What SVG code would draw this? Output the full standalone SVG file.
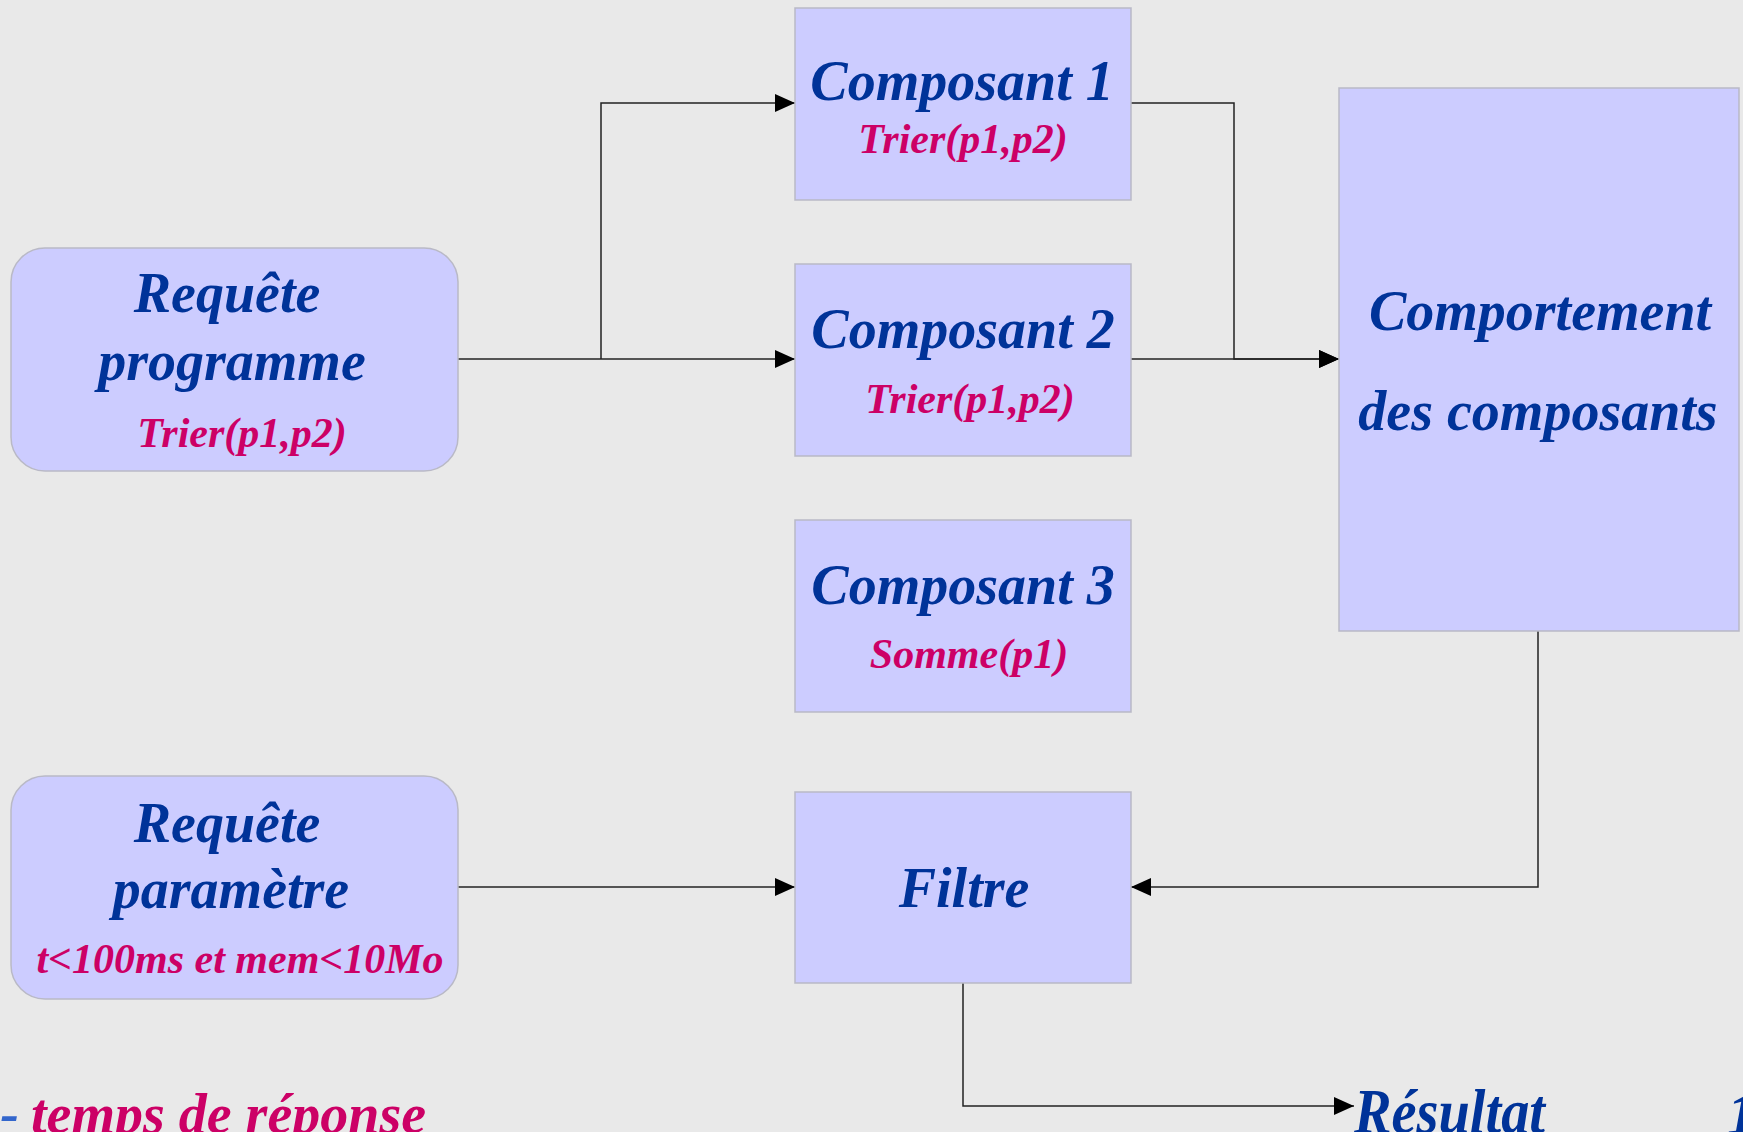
<svg xmlns="http://www.w3.org/2000/svg" width="1743" height="1132" viewBox="0 0 1743 1132">
<style>
.box{fill:#ccccff;stroke:#b9b9c6;stroke-width:1.5}
.t{font-family:"Liberation Serif","Times New Roman",serif;font-weight:bold;font-style:italic;text-anchor:middle}
.b{fill:#003399;font-size:56px}
.m{fill:#cc0066;font-size:42px}
.c{fill:none;stroke:#222;stroke-width:1.5}
</style>
<defs>
<marker id="ar" markerUnits="userSpaceOnUse" markerWidth="20" markerHeight="18" refX="20" refY="9" orient="auto">
<path d="M0,0 L20,9 L0,18 z" fill="#000"/>
</marker>
</defs>
<rect width="1743" height="1132" fill="#e9e9e9"/>
<g id="connectors">
<path class="c" d="M458,359 H795" marker-end="url(#ar)"/>
<path class="c" d="M601,359 V103 H795" marker-end="url(#ar)"/>
<path class="c" d="M1131,103 H1234 V359 H1339" marker-end="url(#ar)"/>
<path class="c" d="M1131,359 H1339" marker-end="url(#ar)"/>
<path class="c" d="M1538,631 V887 H1131" marker-end="url(#ar)"/>
<path class="c" d="M458,887 H795" marker-end="url(#ar)"/>
<path class="c" d="M963,983 V1106 H1354" marker-end="url(#ar)"/>
</g>
<g id="req-programme">
<rect class="box" x="11" y="248" width="447" height="223" rx="34"/>
<text class="t b" x="227" y="312">Requête</text>
<text class="t b" x="232" y="380">programme</text>
<text class="t m" x="242" y="447">Trier(p1,p2)</text>
</g>
<g id="req-parametre">
<rect class="box" x="11" y="776" width="447" height="223" rx="34"/>
<text class="t b" x="227" y="842">Requête</text>
<text class="t b" x="231" y="908">paramètre</text>
<text class="t m" x="240" y="973">t&lt;100ms et mem&lt;10Mo</text>
</g>
<g id="composant1">
<rect class="box" x="795" y="8" width="336" height="192"/>
<text class="t b" x="962" y="100">Composant 1</text>
<text class="t m" x="963" y="153">Trier(p1,p2)</text>
</g>
<g id="composant2">
<rect class="box" x="795" y="264" width="336" height="192"/>
<text class="t b" x="963" y="348">Composant 2</text>
<text class="t m" x="970" y="413">Trier(p1,p2)</text>
</g>
<g id="composant3">
<rect class="box" x="795" y="520" width="336" height="192"/>
<text class="t b" x="963" y="604">Composant 3</text>
<text class="t m" x="969" y="668">Somme(p1)</text>
</g>
<g id="filtre">
<rect class="box" x="795" y="792" width="336" height="191"/>
<text class="t b" x="964" y="907">Filtre</text>
</g>
<g id="comportement">
<rect class="box" x="1339" y="88" width="400" height="543"/>
<text class="t b" x="1540" y="330">Comportement</text>
<text class="t b" x="1538" y="430">des composants</text>
</g>
<g id="resultat">
<text class="t b" x="1354" y="1133" style="text-anchor:start;font-size:64px" textLength="191" lengthAdjust="spacingAndGlyphs">Résultat</text>
</g>
<text class="t" x="19" y="1132" style="text-anchor:end;font-size:56px;fill:#3366cc">-</text>
<text class="t m" x="31" y="1133" style="text-anchor:start;font-size:56px">temps de réponse</text>
<text class="t b" x="1727" y="1134" style="text-anchor:start;font-size:60px">1</text>
</svg>
